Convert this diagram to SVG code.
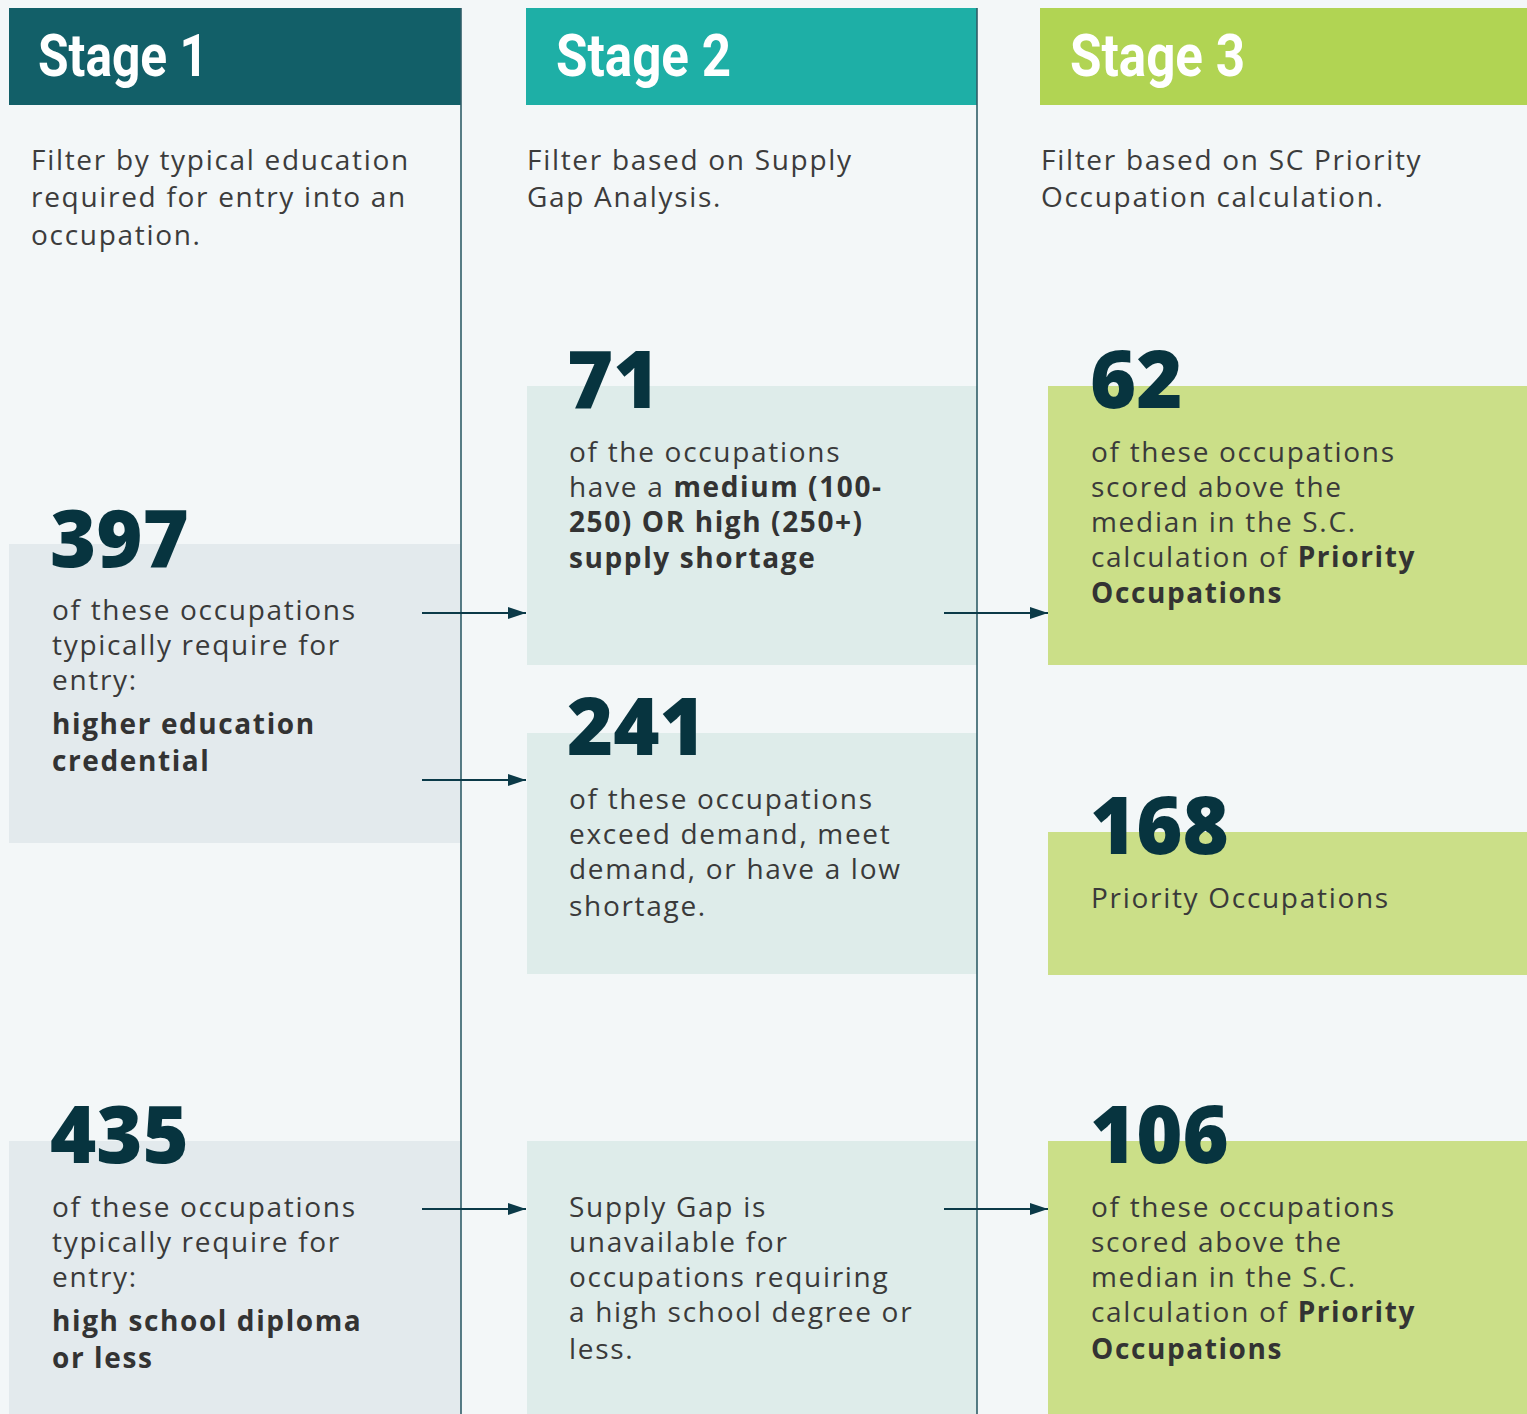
<svg xmlns="http://www.w3.org/2000/svg" width="1527" height="1414" viewBox="0 0 1527 1414">
<defs>
<style>
.bg{fill:#f3f7f8}
.hd{font-family:Roboto,"Liberation Sans",sans-serif;font-weight:700;font-size:60px;fill:#ffffff}
.ds{font-family:"Open Sans","Noto Sans",sans-serif;font-size:28px;letter-spacing:1.7px;fill:#3c3c3c}
.tx{font-family:"Open Sans","Noto Sans",sans-serif;font-size:28px;letter-spacing:1.7px;fill:#3a3a3a}
.b{font-weight:700;fill:#333333;letter-spacing:1.6px}
.num{font-family:"Open Sans","Noto Sans",sans-serif;font-weight:800;font-size:79px;fill:#07343f}
.b1{fill:#e3eaed}
.b2{fill:#deecea}
.b3{fill:#cbdf88}
.vl{stroke:#2f5d68;stroke-width:1.6;fill:none}
.ar{stroke:#0b3a48;stroke-width:2;fill:none}
</style>
<marker id="ah" markerWidth="18" markerHeight="12" refX="18" refY="6" orient="auto" markerUnits="userSpaceOnUse">
<path d="M0,0 L18,6 L0,12 Z" fill="#0b3a48"/>
</marker>
</defs>
<rect class="bg" x="0" y="0" width="1527" height="1414"/>

<g id="stage1-header">
<rect x="9" y="8" width="452" height="97" fill="#125f68"/>
<text class="hd" x="38" y="76" textLength="170" lengthAdjust="spacingAndGlyphs">Stage 1</text>
</g>
<g id="stage2-header">
<rect x="526" y="8" width="451" height="97" fill="#1eafa6"/>
<text class="hd" x="556" y="76" textLength="175" lengthAdjust="spacingAndGlyphs">Stage 2</text>
</g>
<g id="stage3-header">
<rect x="1040" y="8" width="487" height="97" fill="#b1d453"/>
<text class="hd" x="1070" y="76" textLength="175" lengthAdjust="spacingAndGlyphs">Stage 3</text>
</g>

<g id="stage1-desc">
<text class="ds" x="31" y="170">Filter by typical education</text>
<text class="ds" x="31" y="207">required for entry into an</text>
<text class="ds" x="31" y="245">occupation.</text>
</g>
<g id="stage2-desc">
<text class="ds" x="527" y="170">Filter based on Supply</text>
<text class="ds" x="527" y="207">Gap Analysis.</text>
</g>
<g id="stage3-desc">
<text class="ds" x="1041" y="170">Filter based on SC Priority</text>
<text class="ds" x="1041" y="207">Occupation calculation.</text>
</g>

<g id="box-397">
<rect class="b1" x="9" y="544" width="452" height="299"/>
<text class="num" x="50" y="567">397</text>
<text class="tx" x="52" y="620">of these occupations</text>
<text class="tx" x="52" y="655">typically require for</text>
<text class="tx" x="52" y="690">entry:</text>
<text class="tx b" x="52" y="734">higher education</text>
<text class="tx b" x="52" y="771">credential</text>
</g>

<g id="box-435">
<rect class="b1" x="9" y="1141" width="452" height="273"/>
<text class="num" x="50" y="1163">435</text>
<text class="tx" x="52" y="1217">of these occupations</text>
<text class="tx" x="52" y="1252">typically require for</text>
<text class="tx" x="52" y="1287">entry:</text>
<text class="tx b" x="52" y="1331">high school diploma</text>
<text class="tx b" x="52" y="1368">or less</text>
</g>

<g id="box-71">
<rect class="b2" x="527" y="386" width="450" height="279"/>
<text class="num" x="567" y="408">71</text>
<text class="tx" x="569" y="462">of the occupations</text>
<text class="tx" x="569" y="497">have a <tspan class="b">medium (100-</tspan></text>
<text class="tx b" x="569" y="532">250) OR high (250+)</text>
<text class="tx b" x="569" y="568">supply shortage</text>
</g>

<g id="box-241">
<rect class="b2" x="527" y="733" width="450" height="241"/>
<text class="num" x="567" y="755">241</text>
<text class="tx" x="569" y="809">of these occupations</text>
<text class="tx" x="569" y="844">exceed demand, meet</text>
<text class="tx" x="569" y="879">demand, or have a low</text>
<text class="tx" x="569" y="916">shortage.</text>
</g>

<g id="box-supply-gap">
<rect class="b2" x="527" y="1141" width="450" height="273"/>
<text class="tx" x="569" y="1217">Supply Gap is</text>
<text class="tx" x="569" y="1252">unavailable for</text>
<text class="tx" x="569" y="1287">occupations requiring</text>
<text class="tx" x="569" y="1322">a high school degree or</text>
<text class="tx" x="569" y="1359">less.</text>
</g>

<g id="box-62">
<rect class="b3" x="1048" y="386" width="479" height="279"/>
<text class="num" x="1090" y="408">62</text>
<text class="tx" x="1091" y="462">of these occupations</text>
<text class="tx" x="1091" y="497">scored above the</text>
<text class="tx" x="1091" y="532">median in the S.C.</text>
<text class="tx" x="1091" y="567">calculation of <tspan class="b">Priority</tspan></text>
<text class="tx b" x="1091" y="603">Occupations</text>
</g>

<g id="box-168">
<rect class="b3" x="1048" y="832" width="479" height="143"/>
<text class="num" x="1090" y="854">168</text>
<text class="tx" x="1091" y="908">Priority Occupations</text>
</g>

<g id="box-106">
<rect class="b3" x="1048" y="1141" width="479" height="273"/>
<text class="num" x="1090" y="1163">106</text>
<text class="tx" x="1091" y="1217">of these occupations</text>
<text class="tx" x="1091" y="1252">scored above the</text>
<text class="tx" x="1091" y="1287">median in the S.C.</text>
<text class="tx" x="1091" y="1322">calculation of <tspan class="b">Priority</tspan></text>
<text class="tx b" x="1091" y="1359">Occupations</text>
</g>

<g id="connectors">
<line class="vl" x1="461" y1="8" x2="461" y2="1414"/>
<line class="vl" x1="977" y1="8" x2="977" y2="1414"/>
<line class="ar" x1="422" y1="613" x2="526" y2="613" marker-end="url(#ah)"/>
<line class="ar" x1="422" y1="780" x2="526" y2="780" marker-end="url(#ah)"/>
<line class="ar" x1="422" y1="1209" x2="526" y2="1209" marker-end="url(#ah)"/>
<line class="ar" x1="944" y1="613" x2="1048" y2="613" marker-end="url(#ah)"/>
<line class="ar" x1="944" y1="1209" x2="1048" y2="1209" marker-end="url(#ah)"/>
</g>
</svg>
